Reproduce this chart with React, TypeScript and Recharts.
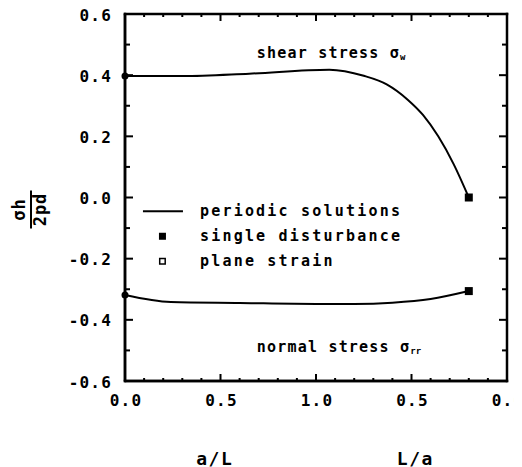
import React from 'react';
import { ComposedChart, Line, Scatter, XAxis, YAxis, ReferenceDot } from 'recharts';

// x runs 0..2 : left half is a/L (0..1), right half is L/a (1..0)
const xTicks = [0, 0.1, 0.2, 0.3, 0.4, 0.5, 0.6, 0.7, 0.8, 0.9, 1.0, 1.1, 1.2, 1.3, 1.4, 1.5, 1.6, 1.7, 1.8, 1.9, 2.0];
const xMajor = [0, 0.5, 1.0, 1.5, 2.0];
const xMajorLabels = ['0.0', '0.5', '1.0', '0.5', '0.0'];
const yTicks = [-0.6, -0.5, -0.4, -0.3, -0.2, -0.1, 0, 0.1, 0.2, 0.3, 0.4, 0.5, 0.6];
const yMajor = [-0.6, -0.4, -0.2, 0, 0.2, 0.4, 0.6];
const yMajorLabels = ['-0.6', '-0.4', '-0.2', '0.0', '0.2', '0.4', '0.6'];

const shearX = [0, 0.3, 0.65, 1.07, 1.25, 1.37, 1.48, 1.56, 1.64, 1.72, 1.8];
const shearV = [0.397, 0.397, 0.405, 0.418, 0.398, 0.37, 0.32, 0.27, 0.2, 0.11, 0.0];
const normalX = [0, 0.24, 0.6, 1.0, 1.2, 1.4, 1.6, 1.8];
const normalV = [-0.319, -0.342, -0.345, -0.348, -0.348, -0.344, -0.332, -0.306];

const singleX = [1.8, 1.8];
const singleV = [0.0, -0.306];
const planeX = [0, 0];
const planeV = [0.397, -0.319];

const legendItems = ['periodic solutions', 'single disturbance', 'plane strain'];

const X_MIN = 0, X_MAX = 2, Y_MIN = -0.6, Y_MAX = 0.6;

// layout
const CHART_W = 514, CHART_H = 459;
const M_TOP = 6, M_RIGHT = 15, Y_AXIS_W = 117, X_AXIS_H = 86;
const PLOT_H = CHART_H - M_TOP - X_AXIS_H;

const shearData = shearX.map((x, i) => ({ x, v: shearV[i] }));
const normalData = normalX.map((x, i) => ({ x, v: normalV[i] }));
const singleData = singleX.map((x, i) => ({ x, v: singleV[i] }));
const planeData = planeX.map((x, i) => ({ x, v: planeV[i] }));

const near = (a: number, b: number) => Math.abs(a - b) < 1e-6;
const isXMajor = (v: number) => xMajor.some((m) => near(m, v));
const isYMajor = (v: number) => yMajor.some((m) => near(m, v));

const FONT = "'DejaVu Sans Mono', monospace";

const BottomLabel = (props: any) => {
  const { x, y, payload } = props;
  const idx = xMajor.findIndex((m) => near(m, payload.value));
  if (idx < 0) return <g />;
  return (
    <text x={x + 1} y={y + 19} textAnchor="middle" dominantBaseline="central" fontFamily={FONT} fontWeight="bold" fontSize={16} letterSpacing={1.2} fill="#000">
      {xMajorLabels[idx]}
    </text>
  );
};

const LeftLabel = (props: any) => {
  const { x, y, payload } = props;
  const idx = yMajor.findIndex((m) => near(m, payload.value));
  if (idx < 0) return <g />;
  return (
    <text x={x - 13} y={y + 1} textAnchor="end" dominantBaseline="central" fontFamily={FONT} fontWeight="bold" fontSize={16} letterSpacing={1.2} fill="#000">
      {yMajorLabels[idx]}
    </text>
  );
};

const YLabel = (props: any) => {
  const vb = props.viewBox || { x: 0, y: 0, width: 0, height: 0 };
  const cx = vb.x + 23;
  const cy = vb.y + vb.height / 2 + 12;
  return (
    <g transform={`translate(${cx},${cy}) rotate(-90)`}>
      <text x={0} y={-6} textAnchor="middle" fontFamily={FONT} fontWeight="bold" fontSize={17} letterSpacing={1} fill="#000">σh</text>
      <rect x={-19} y={-1} width={38} height={2} fill="#000" />
      <text x={0} y={15} textAnchor="middle" fontFamily={FONT} fontWeight="bold" fontSize={17} letterSpacing={1} fill="#000">2pd</text>
    </g>
  );
};

// x-axis titles plus the plot frame with inward tick marks on all four sides
const XLabelsAndFrame = (props: any) => {
  const vb = props.viewBox || { x: 0, y: 0, width: 0, height: 0 };
  const left = vb.x;
  const W = vb.width;
  const bottom = vb.y;
  const top = bottom - PLOT_H;
  const right = left + W;
  const px = (t: number) => left + ((t - X_MIN) / (X_MAX - X_MIN)) * W;
  const py = (t: number) => bottom - ((t - Y_MIN) / (Y_MAX - Y_MIN)) * PLOT_H;
  const th = 2.5;
  const common = { fontFamily: FONT, fontWeight: 'bold' as const, fontSize: 18, letterSpacing: 1.5, fill: '#000', textAnchor: 'middle' as const, dominantBaseline: 'central' as const };
  return (
    <g>
      <rect x={left - th / 2} y={top - th / 2} width={W + th} height={th} fill="#000" />
      <rect x={left - th / 2} y={bottom - th / 2} width={W + th} height={th} fill="#000" />
      <rect x={left - th / 2} y={top - th / 2} width={th} height={PLOT_H + th} fill="#000" />
      <rect x={right - th / 2} y={top - th / 2} width={th} height={PLOT_H + th} fill="#000" />
      {xTicks.map((t) => {
        const len = isXMajor(t) ? 7 : 3;
        return (
          <g key={`xt${t}`}>
            <rect x={px(t) - 1} y={bottom - len} width={2} height={len} fill="#000" />
            <rect x={px(t) - 1} y={top} width={2} height={len} fill="#000" />
          </g>
        );
      })}
      {yTicks.map((t) => {
        const len = isYMajor(t) ? 8 : 5;
        return (
          <g key={`yt${t}`}>
            <rect x={left} y={py(t) - 1} width={len} height={2} fill="#000" />
            <rect x={right - len} y={py(t) - 1} width={len} height={2} fill="#000" />
          </g>
        );
      })}
      <text x={left + W * 0.235} y={bottom + 77} {...common}>a/L</text>
      <text x={left + W * 0.76} y={bottom + 77} {...common}>L/a</text>
    </g>
  );
};

const Annotation = (text: string, sub: string) => (props: any) => {
  const { cx, cy } = props;
  return (
    <text x={cx} y={cy} dominantBaseline="central" fontFamily={FONT} fontWeight="bold" fontSize={15} letterSpacing={1.2} fill="#000">
      {text}
      <tspan fontSize={9} dy={4} letterSpacing={0}>{sub}</tspan>
    </text>
  );
};

const LegendShape = (props: any) => {
  const { cx, cy } = props;
  const rowH = 25;
  const textStyle = { fontFamily: FONT, fontWeight: 'bold' as const, fontSize: 15, letterSpacing: 2.2, fill: '#000', dominantBaseline: 'central' as const };
  return (
    <g>
      <rect x={cx} y={cy - 1} width={40} height={2} fill="#000" />
      <text x={cx + 57} y={cy} {...textStyle}>{legendItems[0]}</text>
      <rect x={cx + 16} y={cy + rowH - 3.5} width={7} height={7} fill="#000" />
      <text x={cx + 57} y={cy + rowH} {...textStyle}>{legendItems[1]}</text>
      <rect x={cx + 16.75} y={cy + 2 * rowH - 2.75} width={5.5} height={5.5} fill="none" stroke="#000" strokeWidth={1.5} />
      <text x={cx + 57} y={cy + 2 * rowH} {...textStyle}>{legendItems[2]}</text>
    </g>
  );
};

const SquareShape = (props: any) => {
  const { cx, cy } = props;
  return <rect x={cx - 4} y={cy - 4} width={8} height={8} fill="#000" />;
};

const DotShape = (props: any) => {
  const { cx, cy } = props;
  return <circle cx={cx} cy={cy} r={3.5} fill="#000" />;
};

export default function App() {
  return (
    <div style={{ width: CHART_W, height: CHART_H, background: '#fff' }}>
      <ComposedChart width={CHART_W} height={CHART_H} margin={{ top: M_TOP, right: M_RIGHT, bottom: 0, left: 0 }}>
        <XAxis
          dataKey="x"
          type="number"
          domain={[X_MIN, X_MAX]}
          ticks={xTicks}
          interval={0}
          height={X_AXIS_H}
          tickSize={0}
          tickMargin={0}
          tickLine={false}
          axisLine={{ stroke: '#000000', strokeWidth: 2.5 }}
          stroke="#000000"
          tick={BottomLabel}
          label={<XLabelsAndFrame />}
        />
        <YAxis
          type="number"
          domain={[Y_MIN, Y_MAX]}
          ticks={yTicks}
          interval={0}
          width={Y_AXIS_W}
          tickSize={0}
          tickMargin={0}
          tickLine={false}
          axisLine={{ stroke: '#000000', strokeWidth: 2.5 }}
          stroke="#000000"
          tick={LeftLabel}
          label={<YLabel />}
        />
        <Line data={shearData} dataKey="v" type="monotone" stroke="#000" strokeWidth={2} dot={false} isAnimationActive={false} />
        <Line data={normalData} dataKey="v" type="monotone" stroke="#000" strokeWidth={2} dot={false} isAnimationActive={false} />
        <Scatter data={singleData} dataKey="v" shape={SquareShape} isAnimationActive={false} />
        <Scatter data={planeData} dataKey="v" shape={DotShape} isAnimationActive={false} />
        <ReferenceDot x={0.69} y={0.472} r={0} shape={Annotation('shear stress σ', 'w')} />
        <ReferenceDot x={0.69} y={-0.489} r={0} shape={Annotation('normal stress σ', 'rr')} />
        <ReferenceDot x={0.094} y={-0.045} r={0} shape={LegendShape} />
      </ComposedChart>
    </div>
  );
}
